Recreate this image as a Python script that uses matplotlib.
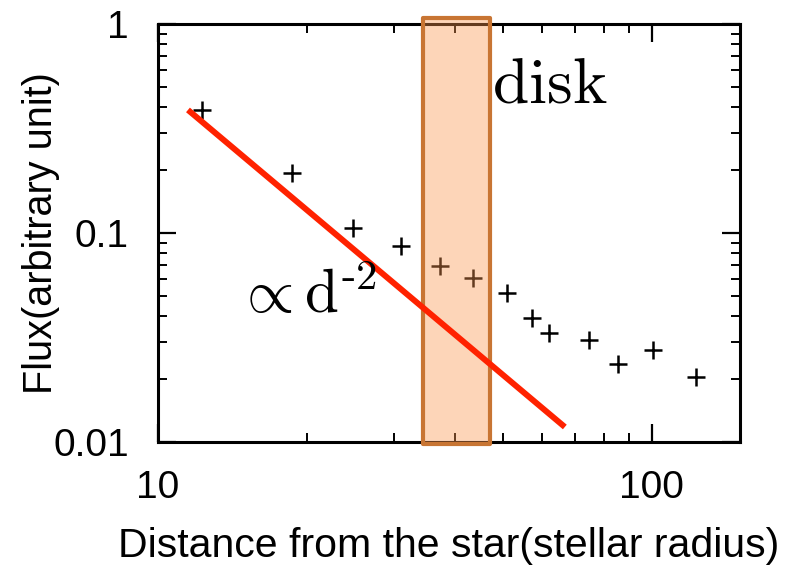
import matplotlib
matplotlib.use("Agg")
import matplotlib.pyplot as plt
from matplotlib.ticker import LogLocator, FixedLocator, FixedFormatter, NullFormatter

plt.rcParams['font.family'] = ['Liberation Sans', 'DejaVu Sans']
plt.rcParams['mathtext.fontset'] = 'cm'

# data
distance = [12.3, 18.7, 24.8, 31.0, 37.2, 43.4, 50.9, 57.1, 61.9, 74.6, 85.3, 100.5, 122.7]
flux = [0.388, 0.194, 0.1057, 0.0867, 0.0695, 0.0609, 0.0516, 0.0392, 0.0332, 0.0308, 0.0236, 0.0275, 0.0205]
line_x = [11.5, 66.7]
line_y = [0.388, 0.0118]
disk_range = [34.4, 47.0]
xticks = [10, 100]
xticklabels = ['10', '100']
yticks = [0.01, 0.1, 1]
yticklabels = ['0.01', '0.1', '1']

fig = plt.figure(figsize=(7.87, 5.65), dpi=100)
ax = fig.add_axes([158/787, 1-442/565, (740-158)/787, (442-24)/565])
ax.set_xscale('log')
ax.set_yscale('log')
ax.set_xlim(10, 151)
ax.set_ylim(0.01, 1)

ax.plot(distance, flux, linestyle='none', marker='+', color='black',
        markersize=13, markeredgewidth=1.8, zorder=2)
ax.plot(line_x, line_y, color='#ff2200', linewidth=4.3, zorder=6, solid_capstyle='butt')

ax.axvspan(disk_range[0], disk_range[1], ymin=-0.004, ymax=1.014,
           facecolor=(0.98, 0.59, 0.31, 0.40), edgecolor='#c87533',
           linewidth=3.0, joinstyle='round', clip_on=False, zorder=5)

ax.text(47.4, 0.423, r'$\mathrm{disk}$', fontsize=47, va='baseline', ha='left', zorder=7)
ax.text(14.4, 0.0414, r'$\propto\mathrm{d}^{\text{-}2}$', fontsize=44, va='baseline', ha='left', zorder=7)

ax.xaxis.set_major_locator(FixedLocator(xticks))
ax.xaxis.set_major_formatter(FixedFormatter(xticklabels))
ax.xaxis.set_minor_locator(LogLocator(base=10, subs=range(2, 10)))
ax.xaxis.set_minor_formatter(NullFormatter())
ax.yaxis.set_major_locator(FixedLocator(yticks))
ax.yaxis.set_major_formatter(FixedFormatter(yticklabels))
ax.yaxis.set_minor_locator(LogLocator(base=10, subs=range(2, 10)))
ax.yaxis.set_minor_formatter(NullFormatter())

ax.tick_params(which='both', direction='in', top=True, right=True, labelsize=28)
ax.tick_params(which='major', length=13, width=1.6)
ax.tick_params(axis='x', which='major', pad=20)
ax.tick_params(axis='y', which='major', pad=21)
ax.tick_params(which='minor', length=6.5, width=1.4)
for s in ax.spines.values():
    s.set_linewidth(2.2)

ax.set_xlabel('Distance from the star(stellar radius)', fontsize=29.5, labelpad=15)
ax.set_ylabel('Flux(arbitrary unit)', fontsize=28.5, labelpad=-5)

fig.savefig('out.png', dpi=100)
